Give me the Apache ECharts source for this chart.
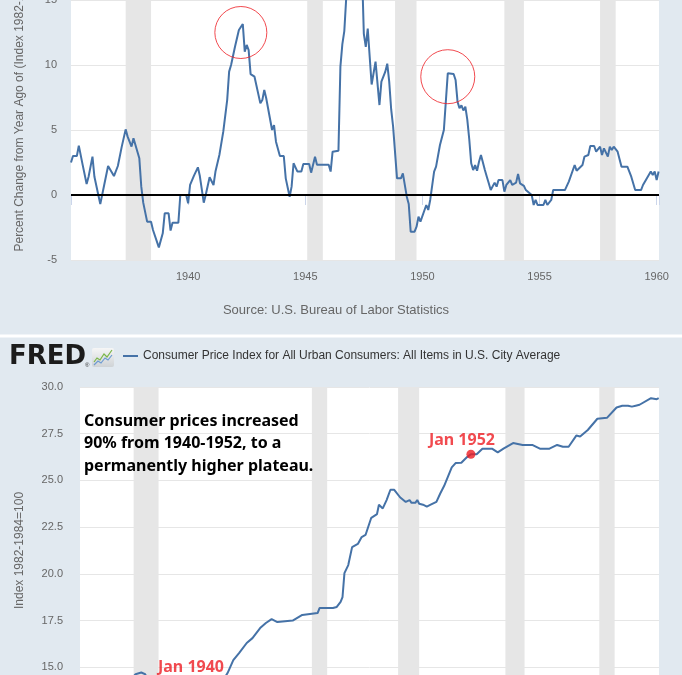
<!DOCTYPE html>
<html>
<head>
<meta charset="utf-8">
<title>CPI 1935-1960</title>
<script src="https://cdn.jsdelivr.net/npm/echarts@6/dist/echarts.min.js"></script>
<style>
  html, body { margin: 0; padding: 0; background: #e1e9f0; overflow: hidden; }
  #main { width: 682px; height: 675px; }
</style>
</head>
<body>
<div id="main"></div>
<script>
// 同比变化（上图），按月份读取的折点
var changeDates = [
  "1935-01", "1935-02", "1935-04", "1935-05", "1935-06", "1935-07", "1935-08", "1935-09", "1935-10", "1935-12",
  "1936-01", "1936-03", "1936-04", "1936-05", "1936-06", "1936-08", "1936-09", "1936-11", "1936-12",
  "1937-01", "1937-02", "1937-03", "1937-05", "1937-06", "1937-07", "1937-08", "1937-09", "1937-10", "1937-12",
  "1938-01", "1938-02", "1938-03", "1938-04", "1938-06", "1938-07", "1938-08", "1938-10", "1938-12",
  "1939-01", "1939-03", "1939-04", "1939-05", "1939-08", "1939-09", "1939-12",
  "1940-01", "1940-02", "1940-03", "1940-04", "1940-05", "1940-06", "1940-07", "1940-08", "1940-09", "1940-10", "1940-12",
  "1941-02", "1941-03", "1941-05", "1941-07", "1941-09", "1941-10", "1941-11", "1941-12",
  "1942-01", "1942-03", "1942-04", "1942-05", "1942-06", "1942-07", "1942-08", "1942-09", "1942-11", "1942-12",
  "1943-02", "1943-03", "1943-04", "1943-05", "1943-06", "1943-08", "1943-09", "1943-10", "1943-12",
  "1944-02", "1944-03", "1944-05", "1944-06", "1944-07", "1944-09", "1944-11", "1944-12",
  "1945-03", "1945-04", "1945-06", "1945-07",
  "1946-01", "1946-02", "1946-03", "1946-04", "1946-06", "1946-07", "1946-08", "1946-09", "1946-10", "1946-11", "1946-12",
  "1947-01", "1947-02", "1947-03", "1947-04", "1947-05", "1947-06", "1947-07", "1947-08", "1947-09", "1947-11", "1947-12",
  "1948-01", "1948-03", "1948-04", "1948-06", "1948-07", "1948-08", "1948-09", "1948-10", "1948-12",
  "1949-02", "1949-03", "1949-05", "1949-06", "1949-07", "1949-09", "1949-10", "1949-11", "1949-12",
  "1950-03", "1950-04", "1950-05", "1950-06", "1950-07", "1950-08", "1950-09", "1950-10", "1950-11", "1950-12",
  "1951-02", "1951-05", "1951-06", "1951-07", "1951-08", "1951-09", "1951-10", "1951-11", "1951-12",
  "1952-01", "1952-02", "1952-03", "1952-04", "1952-05", "1952-06", "1952-07", "1952-08", "1952-09", "1952-10", "1952-11", "1952-12",
  "1953-02", "1953-03", "1953-04", "1953-06", "1953-07", "1953-08", "1953-09", "1953-10", "1953-11",
  "1954-01", "1954-02", "1954-03", "1954-05", "1954-06", "1954-07", "1954-09", "1954-10", "1954-11", "1954-12",
  "1955-03", "1955-04", "1955-05", "1955-07", "1955-08",
  "1956-02", "1956-04", "1956-07", "1956-08", "1956-09", "1956-11", "1956-12",
  "1957-02", "1957-03", "1957-05", "1957-06", "1957-07", "1957-08", "1957-09", "1957-10", "1957-12",
  "1958-01", "1958-02", "1958-03", "1958-05", "1958-07", "1958-10", "1958-12",
  "1959-02", "1959-05", "1959-06", "1959-07", "1959-10", "1959-11", "1959-12",
  "1960-01", "1960-02"
];
var changeValues = [
  2.5, 3.0, 3.0, 3.8, 3.8, 2.3, 2.3, 0.85, 1.4, 2.95,
  1.4, 0.0, -0.7, -0.7, 0.77, 2.23, 2.23, 1.46, 1.46,
  2.23, 2.23, 3.72, 5.05, 4.49, 4.49, 3.72, 4.36, 4.3, 2.82,
  0.64, -0.59, -0.69, -2.05, -2.05, -2.69, -2.7, -4.03, -2.95,
  -1.41, -1.41, -2.74, -2.13, -2.13, 0.0, 0.0,
  -0.64, 0.77, 0.77, 1.49, 1.49, 2.13, 1.46, 1.46, -0.59, 0.0, 1.36,
  0.77, 1.8, 3.08, 4.87, 7.3, 9.49, 10.0, 10.0,
  11.41, 12.69, 12.64, 13.15, 11.03, 11.54, 11.15, 9.3, 9.1, 8.97,
  7.05, 7.3, 8.08, 7.44, 7.4, 5.0, 5.38, 4.1, 3.0,
  3.0, 1.28, -0.13, 0.64, 2.44, 1.8, 1.8, 2.38,
  2.38, 1.72, 2.95, 2.33,
  2.33, 1.8, 3.33, 3.41, 3.41, 9.87, 11.6, 12.6, 15.2, 17.4, 18.1,
  18.1, 18.4, 19.7, 19.0, 18.4, 17.6, 12.4, 11.4, 12.8, 8.5, 8.6,
  10.26, 6.92, 8.72, 9.49, 10.1, 8.72, 6.6, 5.26, 1.28,
  1.28, 1.67, -0.13, -0.69, -2.82, -2.82, -2.44, -1.67, -2.05,
  -0.77, -1.15, -0.38, -0.38, 1.8, 2.18, 2.18, 3.85, 3.85, 5.0,
  9.36, 9.31, 8.85, 7.18, 6.67, 6.9, 6.5, 6.8, 5.8,
  4.3, 2.44, 1.92, 2.3, 1.87, 2.56, 3.08, 3.08, 1.92, 1.41, 0.9, 0.38,
  0.95, 0.64, 1.15, 1.15, 0.26, 0.77, 0.8, 1.15, 0.77,
  0.95, 1.62, 0.9, 0.7, 0.38, 0.33, 0.0, -0.77, -0.38, -0.77,
  -0.77, -0.38, -0.77, -0.38, 0.38,
  0.38, 1.03, 2.31, 1.87, 1.92, 2.31, 2.95,
  3.08, 3.77, 3.77, 3.33, 3.33, 3.72, 3.08, 3.59, 2.95,
  3.72, 3.46, 3.72, 3.33, 2.18, 2.18, 1.41,
  0.38, 0.38, 0.77, 0.77, 1.8, 1.54, 1.8,
  1.15, 1.8
];

// CPI 指数水平（下图）
var cpiDates = [
  "1935-01", "1935-06", "1936-01", "1936-06", "1937-01", "1937-04", "1937-06", "1937-09", "1937-11",
  "1938-01", "1938-06", "1939-01", "1939-08", "1939-09", "1940-01", "1940-06", "1941-01", "1941-03",
  "1941-06", "1941-09", "1941-12", "1942-04", "1942-07", "1942-11", "1943-02", "1943-05", "1943-08",
  "1944-04", "1944-09", "1945-05", "1945-06", "1946-01", "1946-03", "1946-05", "1946-06", "1946-07",
  "1946-09", "1946-11", "1947-02", "1947-04", "1947-06", "1947-09", "1947-12", "1948-01", "1948-03",
  "1948-05", "1948-07", "1948-09", "1948-12", "1949-03", "1949-05", "1949-06", "1949-07", "1949-08",
  "1949-09", "1949-10", "1949-11", "1949-12", "1950-02", "1950-04", "1950-07", "1950-09", "1950-11",
  "1951-03", "1951-05", "1951-08", "1951-11", "1952-01", "1952-04", "1952-07", "1952-12", "1953-03",
  "1953-06", "1953-11", "1954-04", "1954-09", "1955-01", "1955-06", "1955-10", "1956-01", "1956-04",
  "1956-08", "1956-10", "1957-02", "1957-07", "1957-12", "1958-05", "1958-08", "1958-09", "1958-11",
  "1959-01", "1959-03", "1959-04", "1959-05", "1959-11", "1960-02", "1960-03"
];
var cpiValues = [
  13.6, 13.7, 13.8, 13.8, 14.1, 14.4, 14.63, 14.72, 14.63,
  14.2, 14.1, 14.0, 13.8, 14.1, 13.9, 14.0, 14.1, 14.2,
  14.69, 15.38, 15.76, 16.3, 16.56, 17.1, 17.37, 17.58, 17.42,
  17.5, 17.8, 17.9, 18.17, 18.17, 18.23, 18.5, 18.76, 20.04,
  20.47, 21.43, 21.6, 21.97, 22.08, 23.0, 23.2, 23.7, 23.5,
  23.95, 24.5, 24.5, 24.1, 23.85, 23.95, 23.8, 23.9, 23.8,
  23.95, 23.75, 23.85, 23.7, 23.6, 23.7, 23.85, 24.3, 24.7,
  25.7, 25.93, 25.95, 26.25, 26.4, 26.4, 26.7, 26.7, 26.5,
  26.7, 27.0, 26.9, 26.9, 26.7, 26.7, 26.9, 26.8, 26.8,
  27.4, 27.35, 27.7, 28.3, 28.35, 28.9, 29.0, 28.95, 29.0,
  28.95, 29.0, 28.95, 29.05, 29.4, 29.35, 29.4
];

// 经济衰退区间（灰色阴影）
var recessionStarts = ["1937-05", "1945-02", "1948-11", "1953-07", "1957-08"];
var recessionEnds = ["1938-06", "1945-10", "1949-10", "1954-05", "1958-04"];

// 标注
var circleDates = ["1942-04", "1951-02"];
var circleValues = [12.5, 9.1];
var markedDates = ["1940-01", "1952-01"];
var markedLabels = ["Jan 1940", "Jan 1952"];

var noteText = "Consumer prices increased\n90% from 1940-1952, to a\npermanently higher plateau.";
var seriesName = "Consumer Price Index for All Urban Consumers: All Items in U.S. City Average";

// "1946-07" -> 1946.5
function toYear (s) {
  var p = s.split("-");
  return Number(p[0]) + (Number(p[1]) - 1) / 12;
}
function zip (dates, values) {
  return dates.map(function (d, i) { return [toYear(d), values[i]]; });
}

var bands = recessionStarts.map(function (s, i) {
  return [{xAxis: toYear(s)}, {xAxis: toYear(recessionEnds[i])}];
});

var blue = "#4572a7";
var red = "#ee1d23";
var axisColor = "#666";
var font = "'Liberation Sans', Arial, sans-serif";

var myChart = echarts.init(document.getElementById("main"));
var option = {
  backgroundColor: "#e1e9f0",
  animation: false,
  textStyle: {fontFamily: font},
  legend: {
    data: [seriesName],
    left: 123,
    top: 350,
    padding: 0,
    icon: "rect",
    itemWidth: 15,
    itemHeight: 2,
    textStyle: {color: "#333", fontSize: 12, fontFamily: font}
  },
  grid: [
    // 上图（顶部被截掉一部分）
    {
      left: 71, right: 23, top: -65, height: 325,
      outerBoundsMode: "none",
      show: true, backgroundColor: "#fff", borderWidth: 0
    },
    // 下图（底部被截掉）
    {
      left: 80, right: 23, top: 387, height: 327,
      outerBoundsMode: "none",
      show: true, backgroundColor: "#fff", borderWidth: 0
    }
  ],
  xAxis: [
    {
      gridIndex: 0,
      type: "value",
      min: 1935,
      max: 1960.1,
      interval: 5,
      splitLine: {show: false},
      axisLine: {lineStyle: {color: "#ccd6eb"}},
      axisTick: {length: 10, lineStyle: {color: "#ccd6eb"}},
      axisLabel: {
        color: axisColor,
        fontSize: 11,
        margin: 11,
        formatter: function (v) {
          return (v > 1935 && v % 5 === 0) ? String(v) : "";
        }
      }
    },
    {
      gridIndex: 1,
      type: "value",
      min: 1935,
      max: 1960.18,
      show: false
    }
  ],
  yAxis: [
    {
      gridIndex: 0,
      type: "value",
      min: -5,
      max: 20,
      interval: 5,
      name: "Percent Change from Year Ago of (Index 1982-1984=100)",
      nameLocation: "middle",
      nameGap: 45,
      nameTextStyle: {color: axisColor, fontSize: 12},
      axisLine: {show: false},
      axisTick: {show: false},
      axisLabel: {color: axisColor, fontSize: 11, margin: 14},
      splitLine: {lineStyle: {color: "#e6e6e6"}}
    },
    {
      gridIndex: 1,
      type: "value",
      min: 12.5,
      max: 30,
      interval: 2.5,
      name: "Index 1982-1984=100",
      nameLocation: "middle",
      nameGap: 54,
      nameTextStyle: {color: axisColor, fontSize: 12},
      axisLine: {show: false},
      axisTick: {show: false},
      axisLabel: {
        color: axisColor,
        fontSize: 11,
        margin: 17,
        formatter: function (v) {
          return v < 14 ? "" : v.toFixed(1);
        }
      },
      splitLine: {lineStyle: {color: "#e6e6e6"}}
    }
  ],
  series: [
    {
      name: "change",
      type: "line",
      xAxisIndex: 0,
      yAxisIndex: 0,
      data: zip(changeDates, changeValues),
      showSymbol: false,
      lineStyle: {color: blue, width: 2},
      itemStyle: {color: blue},
      markArea: {silent: true, itemStyle: {color: "#e6e6e6"}, data: bands},
      // 0 线
      markLine: {
        silent: true,
        symbol: "none",
        label: {show: false},
        lineStyle: {color: "#000", width: 2, type: "solid"},
        data: [{yAxis: 0}]
      }
    },
    {
      name: "circles",
      type: "scatter",
      xAxisIndex: 0,
      yAxisIndex: 0,
      silent: true,
      data: circleDates.map(function (d, i) {
        return {value: [toYear(d), circleValues[i]], symbolSize: i === 0 ? 52 : 54};
      }),
      itemStyle: {color: "rgba(0,0,0,0)", borderColor: red, borderWidth: 1},
      z: 6
    },
    {
      name: seriesName,
      type: "line",
      xAxisIndex: 1,
      yAxisIndex: 1,
      data: zip(cpiDates, cpiValues),
      showSymbol: false,
      lineStyle: {color: blue, width: 2},
      itemStyle: {color: blue},
      markArea: {silent: true, itemStyle: {color: "#e6e6e6"}, data: bands}
    },
    {
      name: "marked",
      type: "scatter",
      xAxisIndex: 1,
      yAxisIndex: 1,
      silent: true,
      symbolSize: 9,
      itemStyle: {color: red},
      z: 6,
      data: markedDates.map(function (d, i) {
        var v = cpiValues[cpiDates.indexOf(d)];
        return {
          value: [toYear(d), v],
          label: {
            show: true,
            position: "top",
            distance: i === 0 ? 8 : 1,
            offset: [i === 0 ? -4 : -9, 0],
            formatter: markedLabels[i],
            color: red,
            fontSize: 16,
            fontWeight: "bold",
            fontFamily: "'Noto Sans', sans-serif"
          }
        };
      })
    }
  ],
  graphic: [
    // 两个面板之间的白色分隔
    {type: "rect", z: 100, shape: {x: 0, y: 334.5, width: 682, height: 3}, style: {fill: "#fff"}, silent: true},
    {
      type: "text",
      z: 100,
      x: 336, y: 310,
      style: {
        text: "Source: U.S. Bureau of Labor Statistics",
        align: "center", verticalAlign: "middle",
        fill: "#666", font: "13px " + font
      }
    },
    // FRED logo
    {
      type: "text",
      z: 100,
      x: 9, y: 357,
      style: {text: "FRED", verticalAlign: "middle", fill: "#1c1c1c", font: "bold 26px 'DejaVu Sans'"}
    },
    {type: "text", z: 100, x: 85, y: 365, style: {text: "®", verticalAlign: "middle", fill: "#333", font: "6px sans-serif"}},
    {
      type: "rect",
      z: 100,
      shape: {x: 92, y: 348, width: 22, height: 19, r: 2},
      style: {
        fill: new echarts.graphic.LinearGradient(0, 0, 0, 1, [
          {offset: 0, color: "#f6f6f6"}, {offset: 1, color: "#cfd3d6"}
        ])
      }
    },
    {
      type: "polyline",
      z: 101,
      shape: {points: [[94, 362], [97, 358], [100, 360], [104, 354], [107, 357], [112, 350]]},
      style: {stroke: "#7ab648", lineWidth: 1.2, fill: null}
    },
    {
      type: "polyline",
      z: 101,
      shape: {points: [[94, 365], [98, 361], [101, 363], [105, 358], [108, 360], [112, 355]]},
      style: {stroke: "#6d9bd1", lineWidth: 1.2, fill: null}
    },
    // 文字说明
    {
      type: "text",
      z: 100,
      x: 84, y: 410,
      style: {
        text: noteText,
        fill: "#000",
        font: "bold 16px 'Noto Sans'",
        lineHeight: 22.5
      }
    }
  ]
};
myChart.setOption(option);
window.addEventListener("resize", function () {
  myChart.resize();
});
</script>
</body>
</html>
